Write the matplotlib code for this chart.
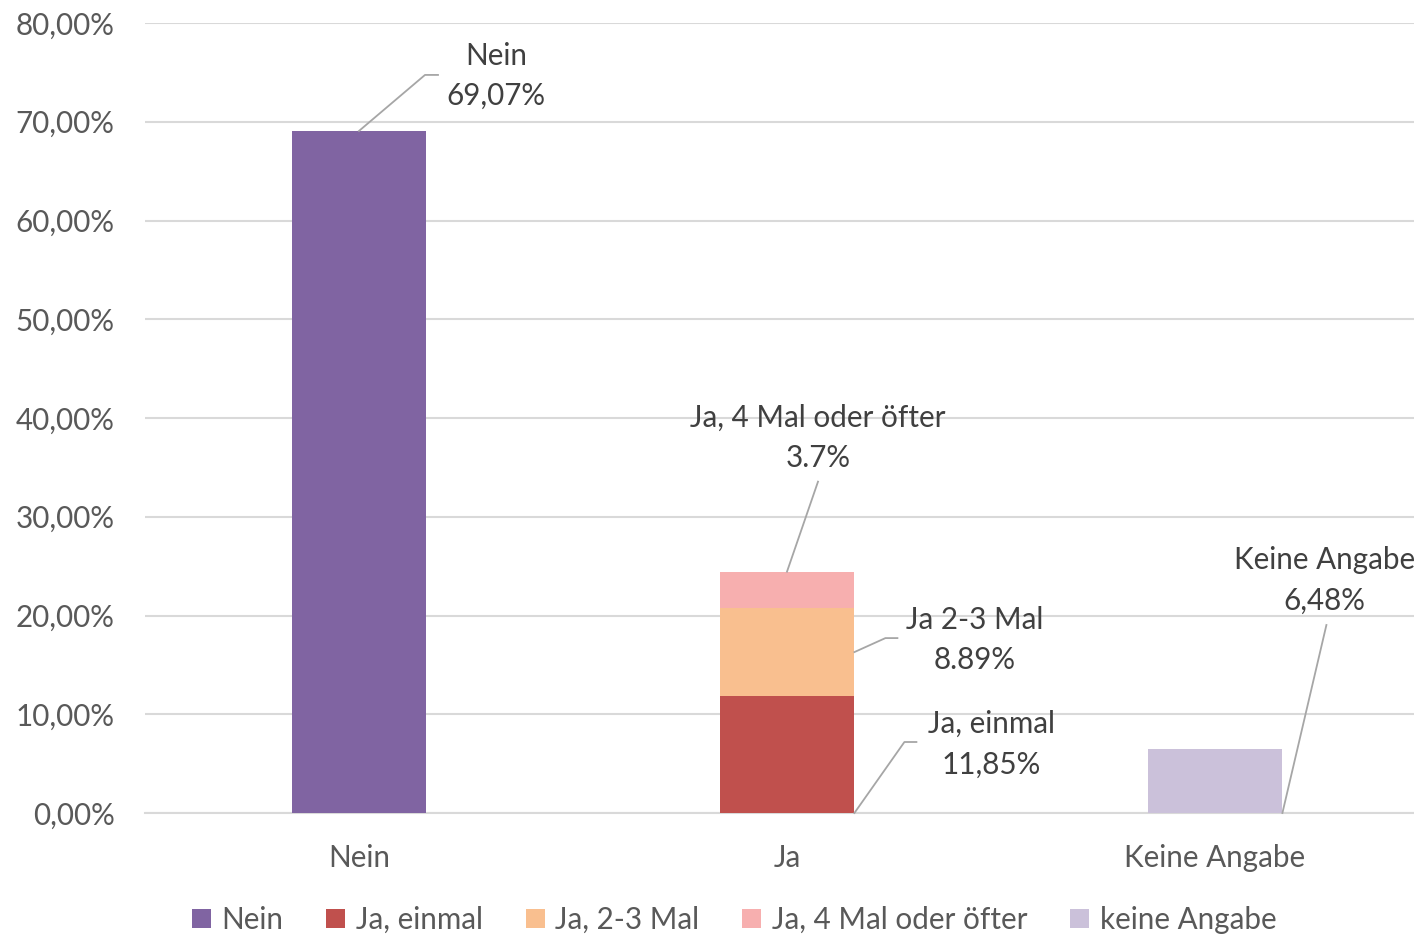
import matplotlib.pyplot as plt
from matplotlib.patches import Patch
import numpy as np

plt.rcParams['font.family'] = ['Lato', 'DejaVu Sans']

categories = ['Nein', 'Ja', 'Keine Angabe']
nein = [69.07, 0, 0]
ja_einmal = [0, 11.85, 0]
ja_23 = [0, 8.89, 0]
ja_4 = [0, 3.7, 0]
keine = [0, 0, 6.48]

series_names = ['Nein', 'Ja, einmal', 'Ja, 2-3 Mal', 'Ja, 4 Mal oder öfter', 'keine Angabe']
colors = ['#8064A2', '#C0504D', '#F9BF8F', '#F7AFAF', '#CBC1DA']
yticks = [0, 10, 20, 30, 40, 50, 60, 70, 80]

text_col = '#404040'
tick_col = '#595959'
grid_col = '#D9D9D9'
lead_col = '#A6A6A6'
fs = 21.3

fig = plt.figure(figsize=(14.14, 9.36), dpi=100)
ax = fig.add_axes([145 / 1414, 123 / 936, 1284 / 1414, 790 / 936])

x = np.arange(len(categories))
w = 0.315
bottom = np.zeros(3)
for vals, c in zip([nein, ja_einmal, ja_23, ja_4, keine], colors):
    ax.bar(x, vals, w, bottom=bottom, color=c, zorder=3)
    bottom = bottom + np.array(vals)

ax.set_xlim(-0.5, 2.5)
ax.set_ylim(0, 80)
ax.set_yticks(yticks)
ax.set_yticklabels([f'{v:.2f}%'.replace('.', ',') for v in yticks], fontsize=fs, color=tick_col)
ax.set_xticks(x)
ax.set_xticklabels(categories, fontsize=fs, color=tick_col)
ax.tick_params(axis='y', length=0, pad=22)
ax.tick_params(axis='x', length=0, pad=22)
ax.grid(axis='y', color=grid_col, linewidth=1.5, zorder=0)
for s in ['top', 'right', 'left']:
    ax.spines[s].set_visible(False)
ax.spines['bottom'].set_color(grid_col)
ax.spines['bottom'].set_linewidth(1.5)
ax.spines['bottom'].set_zorder(2)


def leader(anchor, offsets, label, text_off):
    # offsets in image pixels (down is positive y)
    p0 = ax.transData.transform(anchor)
    pts = [p0] + [p0 + np.array([dx, -dy]) for dx, dy in offsets]
    data_pts = ax.transData.inverted().transform(np.array(pts))
    ax.plot(data_pts[:, 0], data_pts[:, 1], color=lead_col, linewidth=1.3, clip_on=False, zorder=4)
    ax.annotate(label, xy=anchor, xytext=(text_off[0], -text_off[1]), textcoords='offset pixels',
                ha='center', va='center', multialignment='center', fontsize=fs, color=text_col,
                linespacing=1.55, annotation_clip=False, zorder=5)


leader((0, nein[0]), [(66, -56), (79, -56)], 'Nein\n69,07%', (137, -55))
top_ja = ja_einmal[1] + ja_23[1] + ja_4[1]
leader((1, top_ja), [(31, -90)], 'Ja, 4 Mal oder öfter\n3.7%', (31, -134))
leader((1 + w / 2, ja_einmal[1] + ja_23[1] / 2), [(31, -14), (43, -14)], 'Ja 2-3 Mal\n8.89%', (120, -12))
leader((1 + w / 2, 0), [(50, -71), (62, -71)], 'Ja, einmal\n11,85%', (137, -69))
leader((2 + w / 2, 0), [(44, -188)], 'Keine Angabe\n6,48%', (42, -233))

handles = [Patch(facecolor=c, edgecolor='none') for c in colors]
fig.legend(handles, series_names, loc='center', bbox_to_anchor=(734 / 1414, 16 / 936), ncol=5,
           frameon=False, fontsize=fs, labelcolor=tick_col, handlelength=0.65, handleheight=0.65,
           handletextpad=0.35, columnspacing=1.45, borderaxespad=0)

fig.savefig('out.png', dpi=100)
